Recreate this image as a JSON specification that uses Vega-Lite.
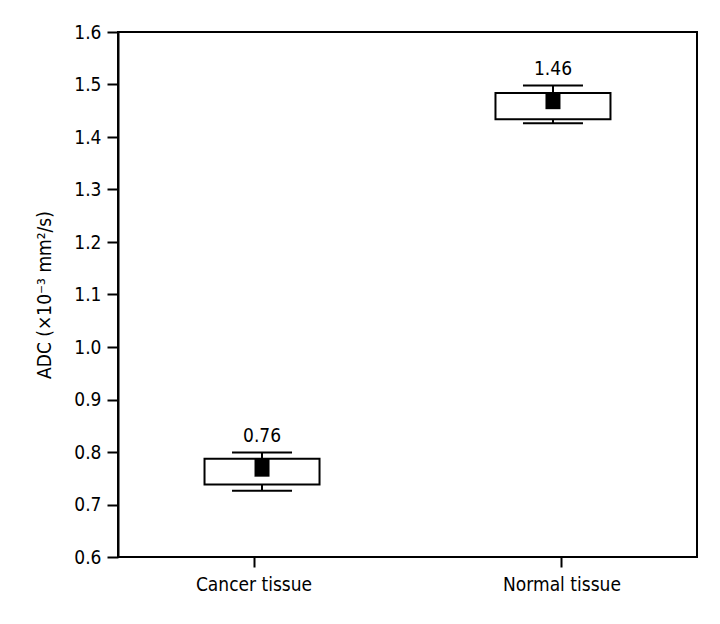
{
  "$schema": "https://vega.github.io/schema/vega-lite/v6.json",
  "width": 579,
  "height": 525,
  "autosize": "none",
  "padding": {"left": 118, "top": 32, "right": 23, "bottom": 67},
  "background": "white",
  "config": {
    "font": "DejaVu Sans Condensed, Liberation Sans Narrow, Roboto, sans-serif",
    "view": {"stroke": "black", "strokeWidth": 2},
    "axis": {
      "grid": false,
      "domainColor": "black",
      "domainWidth": 2,
      "tickColor": "black",
      "tickWidth": 2,
      "labelColor": "black",
      "labelFontSize": 19,
      "labelFont": "DejaVu Sans Condensed, Liberation Sans Narrow, Roboto, sans-serif",
      "titleFont": "DejaVu Sans Condensed, Liberation Sans Narrow, Roboto, sans-serif",
      "titleColor": "black",
      "titleFontWeight": "normal"
    }
  },
  "data": {
    "values": [
      {"tissue": "Cancer tissue", "whisker_low": 0.726, "q1": 0.738, "q3": 0.787, "whisker_high": 0.799, "mean_low": 0.753, "mean_high": 0.787, "mean": 0.76},
      {"tissue": "Normal tissue", "whisker_low": 1.426, "q1": 1.434, "q3": 1.484, "whisker_high": 1.498, "mean_low": 1.453, "mean_high": 1.484, "mean": 1.46}
    ]
  },
  "encoding": {
    "y": {
      "field": "q1",
      "type": "quantitative",
      "scale": {"domain": [0.6, 1.6], "nice": false, "zero": false},
      "axis": {
        "values": [0.6, 0.7, 0.8, 0.9, 1.0, 1.1, 1.2, 1.3, 1.4, 1.5, 1.6],
        "format": ".1f",
        "tickSize": 11,
        "labelPadding": 6,
        "title": "ADC (×10⁻³ mm²/s)",
        "titleFontSize": 19,
        "titlePadding": 19
      }
    }
  },
  "layer": [
    {
      "encoding": {
        "x": {
          "field": "tissue",
          "type": "nominal",
          "scale": {"type": "point", "padding": 0.495},
          "axis": null
        }
      },
      "layer": [
        {
          "mark": {"type": "rule", "color": "black", "strokeWidth": 2, "opacity": 1},
          "encoding": {
            "y": {"field": "whisker_low", "type": "quantitative"},
            "y2": {"field": "whisker_high"}
          }
        },
        {
          "mark": {"type": "tick", "color": "black", "size": 60, "thickness": 2, "opacity": 1},
          "encoding": {
            "y": {"field": "whisker_low", "type": "quantitative"}
          }
        },
        {
          "mark": {"type": "tick", "color": "black", "size": 60, "thickness": 2, "opacity": 1},
          "encoding": {
            "y": {"field": "whisker_high", "type": "quantitative"}
          }
        },
        {
          "mark": {"type": "bar", "fill": "white", "stroke": "black", "strokeWidth": 2, "size": 115, "opacity": 1},
          "encoding": {
            "y": {"field": "q1", "type": "quantitative"},
            "y2": {"field": "q3"}
          }
        },
        {
          "mark": {"type": "bar", "fill": "black", "size": 15, "opacity": 1},
          "encoding": {
            "y": {"field": "mean_low", "type": "quantitative"},
            "y2": {"field": "mean_high"}
          }
        },
        {
          "mark": {"type": "text", "fontSize": 19, "color": "black", "baseline": "bottom", "dy": -7},
          "encoding": {
            "y": {"field": "whisker_high", "type": "quantitative"},
            "text": {"field": "mean", "type": "quantitative", "format": ".2f"}
          }
        }
      ]
    },
    {
      "mark": {"type": "point", "opacity": 0},
      "encoding": {
        "x": {
          "field": "tissue",
          "type": "nominal",
          "scale": {"type": "point", "padding": 0.44},
          "axis": {
            "title": null,
            "labelAngle": 0,
            "domain": false,
            "tickSize": 10,
            "labelPadding": 8
          }
        }
      }
    }
  ],
  "resolve": {"scale": {"x": "independent"}}
}
